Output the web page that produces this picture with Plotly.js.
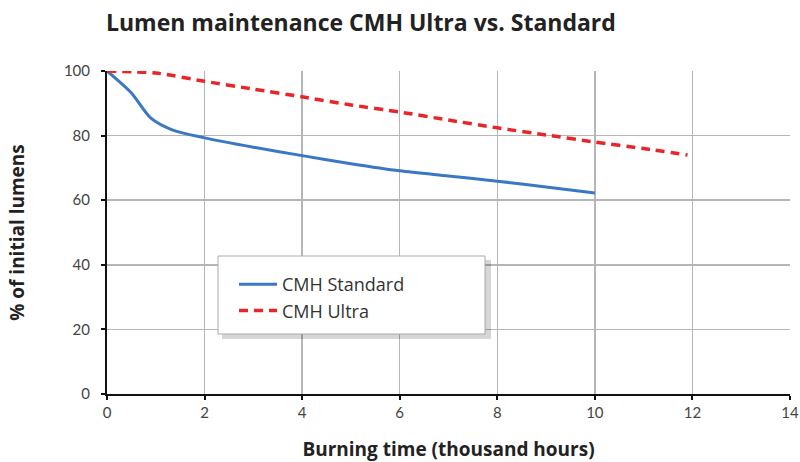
<!DOCTYPE html>
<html><head><meta charset="utf-8">
<script src="https://cdn.plot.ly/plotly-3.0.1.min.js"></script>
<style>html,body{margin:0;padding:0;background:#fff}</style>
</head><body>
<div id="chart" style="width:800px;height:462px"></div>
<script>
const stdHours = [0, 0.5, 0.9, 1.35, 2, 3, 4, 5, 6, 7, 8, 9, 10];
const stdLumens = [100, 93.2, 85.4, 81.7, 79.3, 76.4, 73.8, 71.3, 69.1, 67.5, 65.9, 64.1, 62.2];
const ultraHours = [0, 1, 2, 3, 4, 5, 6, 7, 8, 9, 10, 11, 11.9];
const ultraLumens = [100, 99.4, 96.8, 94.4, 92.0, 89.5, 87.3, 84.8, 82.4, 80.2, 78.0, 76.0, 74.0];
const seriesNames = ['CMH Standard', 'CMH Ultra'];
const xTicks = [0, 2, 4, 6, 8, 10, 12, 14];
const yTicks = [0, 20, 40, 60, 80, 100];

const FONT = '"Open Sans", Lato, sans-serif';
const TICKFONT = 'Lato, "Open Sans", sans-serif';
const traces = [
  {x: stdHours, y: stdLumens, name: seriesNames[0], mode: 'lines',
   line: {color: '#3a78c3', width: 3, shape: 'spline', smoothing: 0.8}},
  {x: ultraHours, y: ultraLumens, name: seriesNames[1], mode: 'lines',
   line: {color: '#e8262a', width: 3.5, dash: '9px,6px', shape: 'spline', smoothing: 0.6}}
];
const layout = {
  width: 800, height: 462,
  margin: {l: 107, r: 10, t: 71, b: 68},
  paper_bgcolor: '#fff', plot_bgcolor: '#fff',
  font: {family: FONT, color: '#333'},
  title: {text: '<b>Lumen maintenance CMH Ultra vs. Standard</b>', x: 106/800, xanchor: 'left',
          y: 1 - 23/462, yanchor: 'middle', font: {size: 23, color: '#222', family: FONT}},
  xaxis: {range: [0, 14], tickvals: xTicks, ticks: 'outside', ticklen: 4, tickwidth: 2, tickcolor: '#111',
          showline: true, linecolor: '#111', linewidth: 2, showgrid: true, gridcolor: '#b4b6b8', gridwidth: 1.5,
          zeroline: false, tickfont: {size: 15, color: '#444', family: TICKFONT},
          title: {text: '<b>Burning time (thousand hours)</b>', font: {size: 19, color: '#222'}, standoff: 33}},
  yaxis: {range: [0, 100], tickvals: yTicks, ticks: 'outside', ticklen: 4, tickwidth: 2, tickcolor: '#111',
          showline: true, linecolor: '#111', linewidth: 2, showgrid: true, gridcolor: '#b4b6b8', gridwidth: 1.5,
          zeroline: false, tickfont: {size: 15, color: '#444', family: TICKFONT}, ticklabelstandoff: 8,
          title: {text: '<b>% of initial lumens</b>', font: {size: 19, color: '#222'}, standoff: 34}},
  showlegend: true,
  legend: {x: (234-107)/683, y: (394-266)/323, xanchor: 'left', yanchor: 'top', bgcolor: 'rgba(0,0,0,0)', borderwidth: 0,
           itemwidth: 38, font: {size: 18, color: '#333', family: FONT}},
  shapes: [
    {type: 'rect', xref: 'paper', yref: 'paper', layer: 'above',
     x0: (222-107)/683, x1: (491-107)/683, y0: (394-339)/323, y1: (394-260)/323,
     fillcolor: 'rgba(0,0,0,0.16)', line: {width: 0}},
    {type: 'rect', xref: 'paper', yref: 'paper', layer: 'above',
     x0: (218-107)/683, x1: (485-107)/683, y0: (394-334)/323, y1: (394-256)/323,
     fillcolor: '#ffffff', opacity: 1, line: {color: '#a8aaac', width: 1}}
  ]
};
Plotly.newPlot('chart', traces, layout, {displayModeBar: false, staticPlot: true});
</script>
</body></html>
